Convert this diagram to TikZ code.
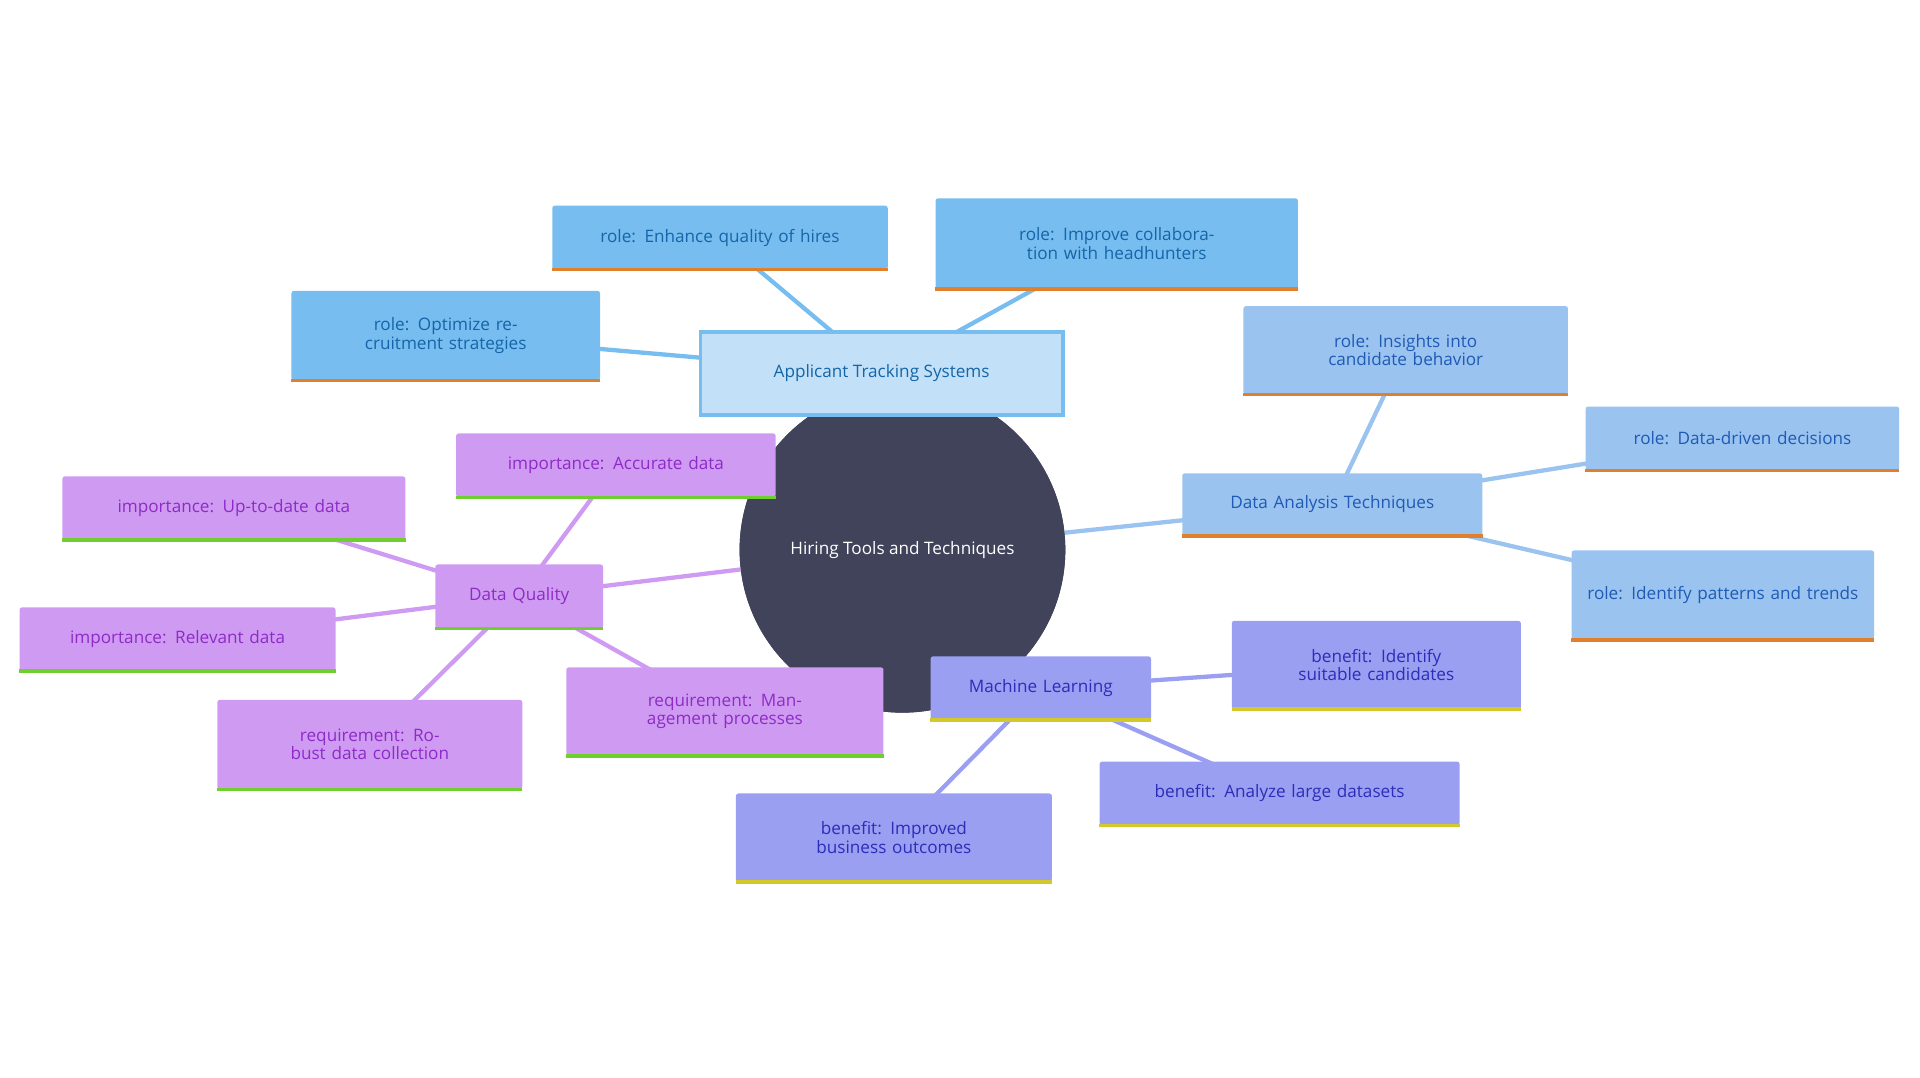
\documentclass[tikz,border=0pt]{standalone}
\usepackage{fontspec}
\setmainfont{Open Sans}
\begin{document}
\begin{tikzpicture}[x=1pt,y=-1pt,
  every node/.style={font=\fontsize{14}{15}\selectfont, align=center, inner sep=0pt},
  bx/.style={rounded corners=2pt, draw=none},
  ats/.style={bx, fill=atsF, text=atsT}, dat/.style={bx, fill=datF, text=datT},
  mlc/.style={bx, fill=mlF, text=mlT}, dqc/.style={bx, fill=dqF, text=dqT},
  lk/.style={line width=3.5pt}]
\definecolor{atsF}{HTML}{77BDF0}\definecolor{atsT}{HTML}{1565A8}
\definecolor{datF}{HTML}{9AC3F0}\definecolor{datT}{HTML}{1F5BB5}
\definecolor{mlF}{HTML}{9B9FF2}\definecolor{mlT}{HTML}{2C2DB8}
\definecolor{dqF}{HTML}{CF9BF2}\definecolor{dqT}{HTML}{8E2BC7}
\definecolor{orL}{HTML}{E07F2C}\definecolor{ylL}{HTML}{D4C92A}\definecolor{grL}{HTML}{6FCF2E}
\definecolor{hub}{HTML}{40435A}
\useasboundingbox (0,0) rectangle (1568,880);
\newcommand{\bx}[8]{\node[#6, minimum width=#4, minimum height=#5, text width=#4-24] (#1) at (#2,#3) {#8};
  \draw[line width=3pt,#7] (#1.south west)--(#1.south east);}
% hub
\node[circle, fill=hub, minimum size=266, text=white] (hub) at (737,449) {Hiring Tools and Techniques};
% nodes (coordinates only for links first)
\coordinate (ats) at (720,305); \coordinate (dat) at (1088,412);
\coordinate (ml) at (850,562); \coordinate (dq) at (424,487);
\begin{scope}[on background layer/.style={}]
\draw[lk,atsF] (hub)--(ats); \draw[lk,datF] (hub)--(dat); \draw[lk,mlF] (hub)--(ml); \draw[lk,dqF] (hub)--(dq);
\draw[lk,atsF] (ats)--(588,194); \draw[lk,atsF] (ats)--(912,199); \draw[lk,atsF] (ats)--(364,274);
\draw[lk,datF] (dat)--(1148,286); \draw[lk,datF] (dat)--(1423,358); \draw[lk,datF] (dat)--(1407,486);
\draw[lk,mlF] (ml)--(1124,543); \draw[lk,mlF] (ml)--(1045,648); \draw[lk,mlF] (ml)--(730,684);
\draw[lk,dqF] (dq)--(503,380); \draw[lk,dqF] (dq)--(191,415); \draw[lk,dqF] (dq)--(145,522); \draw[lk,dqF] (dq)--(302,608); \draw[lk,dqF] (dq)--(592,581);
\end{scope}
\node[hub/.style={}, circle, fill=hub, minimum size=266, text=white] at (737,449) {Hiring Tools and Techniques};
\node[draw=atsF, line width=3pt, fill=atsF!45!white, text=atsT, minimum width=296, minimum height=68] (atsn) at (720,305) {Applicant Tracking Systems};
\bx{a1}{588}{194}{274}{52}{ats}{orL}{role: Enhance quality of hires}
\bx{a2}{912}{199}{296}{74}{ats}{orL}{role: Improve collaboration with headhunters}
\bx{a3}{364}{274}{252}{73}{ats}{orL}{role: Optimize recruitment strategies}
\bx{d0}{1088}{412}{245}{51}{dat}{orL}{Data Analysis Techniques}
\bx{d1}{1148}{286}{265}{72}{dat}{orL}{role: Insights into candidate behavior}
\bx{d2}{1423}{358}{256}{52}{dat}{orL}{role: Data-driven decisions}
\bx{d3}{1407}{486}{247}{73}{dat}{orL}{role: Identify patterns and trends}
\bx{m0}{850}{562}{180}{52}{mlc}{ylL}{Machine Learning}
\bx{m1}{1124}{543}{236}{72}{mlc}{ylL}{benefit: Identify suitable candidates}
\bx{m2}{1045}{648}{294}{52}{mlc}{ylL}{benefit: Analyze large datasets}
\bx{m3}{730}{684}{258}{72}{mlc}{ylL}{benefit: Improved business outcomes}
\bx{q0}{424}{487}{137}{52}{dqc}{grL}{Data Quality}
\bx{q1}{503}{380}{261}{52}{dqc}{grL}{importance: Accurate data}
\bx{q2}{191}{415}{280}{52}{dqc}{grL}{importance: Up-to-date data}
\bx{q3}{145}{522}{258}{52}{dqc}{grL}{importance: Relevant data}
\bx{q4}{302}{608}{249}{73}{dqc}{grL}{requirement: Robust data collection}
\bx{q5}{592}{581}{259}{72}{dqc}{grL}{requirement: Management processes}
\end{tikzpicture}
\end{document}
